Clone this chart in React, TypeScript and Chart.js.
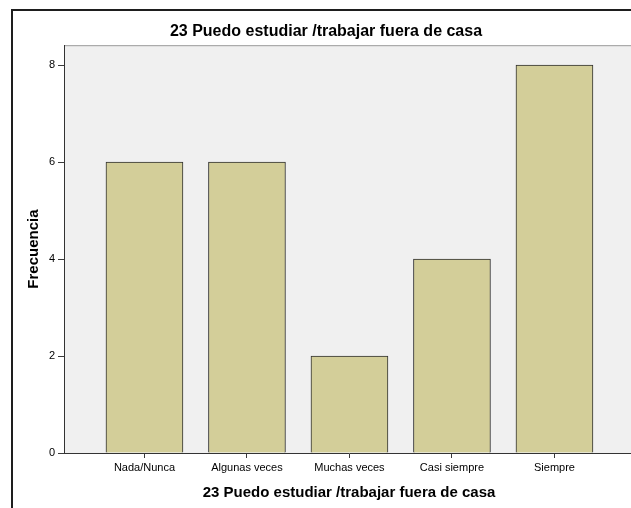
import React, { useEffect, useRef } from "react";
import { Chart, registerables } from "chart.js";

Chart.register(...registerables);

const categories = ["Nada/Nunca", "Algunas veces", "Muchas veces", "Casi siempre", "Siempre"];
const frequencies = [6, 6, 2, 4, 8];
const yTicks = [0, 2, 4, 6, 8];
const titleText = "23 Puedo estudiar /trabajar fuera de casa";
const xTitleText = "23 Puedo estudiar /trabajar fuera de casa";
const yTitleText = "Frecuencia";

const FONT = "'Liberation Sans', Arial, sans-serif";

const framePlugin = {
  id: "framePlugin",
  beforeDraw(chart: any) {
    const { ctx, chartArea } = chart;
    ctx.save();
    ctx.fillStyle = "#ffffff";
    ctx.fillRect(0, 0, chart.width, chart.height);
    // outer frame
    ctx.strokeStyle = "#1e1e1e";
    ctx.lineWidth = 2;
    ctx.beginPath();
    ctx.moveTo(12, chart.height + 5);
    ctx.lineTo(12, 10);
    ctx.lineTo(chart.width + 5, 10);
    ctx.stroke();
    // plot background
    ctx.fillStyle = "#f0f0f0";
    ctx.fillRect(chartArea.left, chartArea.top, chartArea.right - chartArea.left, chartArea.bottom - chartArea.top);
    ctx.strokeStyle = "#9a9a9a";
    ctx.lineWidth = 1;
    ctx.beginPath();
    ctx.moveTo(chartArea.left, chartArea.top + 0.5);
    ctx.lineTo(chartArea.right, chartArea.top + 0.5);
    ctx.stroke();
    ctx.restore();
  },
};

export default function App() {
  const ref = useRef<HTMLCanvasElement | null>(null);

  useEffect(() => {
    if (!ref.current) return;
    const chart = new Chart(ref.current, {
      type: "bar",
      data: {
        datasets: [
          {
            data: categories.map((_, i) => ({ x: i, y: frequencies[i] })),
            backgroundColor: "#d3ce99",
            borderColor: "#2f2f2f",
            borderWidth: 1,
            barThickness: 77,
          },
        ],
      },
      options: {
        animation: false,
        responsive: false,
        devicePixelRatio: 1,
        layout: { padding: { left: 18, right: 18, top: 0, bottom: 0 } },
        plugins: {
          legend: { display: false },
          tooltip: { enabled: false },
          title: {
            display: true,
            text: titleText,
            color: "#000000",
            font: { family: FONT, size: 16, weight: "bold" },
            padding: { top: 22, bottom: 4 },
          },
        },
        scales: {
          x: {
            type: "linear",
            offset: false,
            min: -0.785,
            max: 4.776,
            afterBuildTicks: (axis: any) => {
              axis.ticks = categories.map((_, i) => ({ value: i }));
            },
            afterFit: (scale: any) => {
              scale.height = 55;
            },
            ticks: {
              callback: (v: any) => categories[Math.round(Number(v))] ?? "",
              color: "#000000",
              font: { family: FONT, size: 11 },
              padding: 3,
              maxRotation: 0,
              autoSkip: false,
            },
            grid: {
              offset: false,
              drawOnChartArea: false,
              drawTicks: true,
              tickLength: 5,
              tickColor: "#3a3a3a",
            },
            border: { display: true, color: "#333333", width: 1 },
            title: {
              display: true,
              text: xTitleText,
              color: "#000000",
              font: { family: FONT, size: 15, weight: "bold" },
              padding: { top: 0, bottom: 6 },
            },
          },
          y: {
            type: "linear",
            min: 0,
            max: 8.41,
            afterBuildTicks: (axis: any) => {
              axis.ticks = yTicks.map((v) => ({ value: v }));
            },
            afterFit: (scale: any) => {
              scale.width = 46;
            },
            ticks: {
              color: "#000000",
              font: { family: FONT, size: 11 },
              padding: 3,
            },
            grid: {
              drawOnChartArea: false,
              drawTicks: true,
              tickLength: 6,
              tickColor: "#3a3a3a",
            },
            border: { display: true, color: "#333333", width: 1 },
            title: {
              display: true,
              text: yTitleText,
              color: "#000000",
              font: { family: FONT, size: 15, weight: "bold" },
              padding: { top: 7, bottom: 0 },
            },
          },
        },
      },
      plugins: [framePlugin],
    } as any);
    return () => chart.destroy();
  }, []);

  return (
    <div style={{ position: "absolute", left: 0, top: 0, width: 631, height: 508, overflow: "hidden", background: "#fff" }}>
      <canvas ref={ref} width={652} height={508} style={{ display: "block", width: 652, height: 508 }} />
    </div>
  );
}
